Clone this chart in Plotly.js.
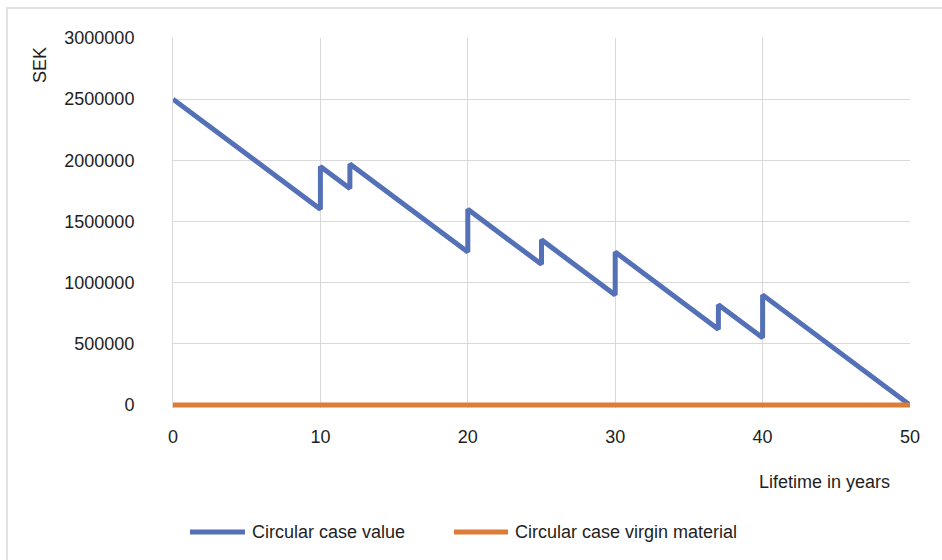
<!DOCTYPE html>
<html>
<head>
<meta charset="utf-8">
<script src="https://cdn.plot.ly/plotly-3.0.1.min.js"></script>
<style>
  html, body { margin: 0; padding: 0; background: #ffffff; }
  #wrap { position: relative; width: 942px; height: 560px; overflow: hidden; }
  #chart { position: absolute; left: 0; top: 0; width: 942px; height: 560px; }
  #frame { position: absolute; left: 6px; top: 7px; width: 960px; height: 600px;
           border-left: 2px solid #e2e2e2; border-top: 2px solid #e2e2e2; pointer-events: none; }
</style>
</head>
<body>
<div id="wrap">
  <div id="chart"></div>
  <div id="frame"></div>
</div>
<script>
// Data
const years = [0, 10, 10, 12, 12, 20, 20, 25, 25, 30, 30, 37, 37, 40, 40, 50];
const circularValue = [2500000, 1600000, 1950000, 1770000, 1970000, 1250000, 1600000, 1150000,
                       1350000, 900000, 1250000, 620000, 820000, 550000, 900000, 0];
const virginYears = [0, 50];
const virginValue = [0, 0];
const seriesNames = ["Circular case value", "Circular case virgin material"];
const seriesColors = ["#5470B6", "#DB7C38"];
const yTickVals = [0, 500000, 1000000, 1500000, 2000000, 2500000, 3000000];
const xTickVals = [0, 10, 20, 30, 40, 50];

const W = 942, H = 560;
const BASE_B = 155;            // pixel distance from page bottom to y = 0
const PAD = 3;                 // extra room below y = 0 so the thick baseline line is not clipped
const YMAX = 3000000;
const M = { l: 173, r: 32, t: 38, b: BASE_B - PAD };
const PW = W - M.l - M.r;
const PH0 = H - M.t - BASE_B;  // pixel height from 0 to YMAX
const yMin = -YMAX * PAD / PH0;
const px = x => (x - M.l) / PW;                       // page pixel -> paper x
const py = y => (H - M.b - y) / (H - M.t - M.b);      // page pixel -> paper y

const FONT = "Arial, 'Liberation Sans', sans-serif";
const TXT = "#1e1e1e";

const traces = [
  { x: years, y: circularValue, name: seriesNames[0], type: "scatter", mode: "lines",
    line: { color: seriesColors[0], width: 5 }, cliponaxis: false, showlegend: false },
  { x: virginYears, y: virginValue, name: seriesNames[1], type: "scatter", mode: "lines",
    line: { color: seriesColors[1], width: 5 }, cliponaxis: false, showlegend: false }
];

// Legend (drawn as paper-anchored samples + labels)
const legendY = py(532);
const legendItems = [
  { x0: 190, x1: 245, tx: 250 },
  { x0: 454, x1: 508, tx: 513 }
];
const shapes = legendItems.map((it, i) => ({
  type: "line", xref: "paper", yref: "paper",
  x0: px(it.x0), x1: px(it.x1), y0: legendY, y1: legendY,
  line: { color: seriesColors[i], width: 5 }
}));
const annotations = legendItems.map((it, i) => ({
  xref: "paper", yref: "paper", x: px(it.tx), y: legendY,
  xanchor: "left", yanchor: "middle", showarrow: false,
  text: seriesNames[i], font: { family: FONT, size: 18, color: TXT }
}));
annotations.push({
  xref: "paper", yref: "paper", x: px(40), y: py(65), textangle: -90,
  xanchor: "center", yanchor: "middle", showarrow: false,
  text: "SEK", font: { family: FONT, size: 18, color: TXT }
});
annotations.push({
  xref: "paper", yref: "paper", x: px(824), y: py(482),
  xanchor: "center", yanchor: "middle", showarrow: false,
  text: "Lifetime in years", font: { family: FONT, size: 18, color: TXT }
});

const layout = {
  width: W, height: H,
  margin: M,
  paper_bgcolor: "#ffffff", plot_bgcolor: "#ffffff",
  showlegend: false,
  font: { family: FONT, size: 18, color: TXT },
  xaxis: {
    range: [0, 50], tickvals: xTickVals, ticktext: xTickVals.map(String),
    showgrid: true, gridcolor: "#d9d9d9", gridwidth: 1,
    zeroline: false, showline: false, ticks: "", ticklabelstandoff: 16,
    tickfont: { family: FONT, size: 18, color: TXT }, fixedrange: true
  },
  yaxis: {
    range: [yMin, YMAX], tickvals: yTickVals, ticktext: yTickVals.map(String),
    showgrid: true, gridcolor: "#d9d9d9", gridwidth: 1,
    zeroline: false, showline: true, linecolor: "#d9d9d9", linewidth: 1,
    ticks: "", ticklabelstandoff: 34,
    tickfont: { family: FONT, size: 18, color: TXT }, fixedrange: true
  },
  shapes: shapes,
  annotations: annotations
};

Plotly.newPlot("chart", traces, layout, { staticPlot: true, displayModeBar: false });
</script>
</body>
</html>
